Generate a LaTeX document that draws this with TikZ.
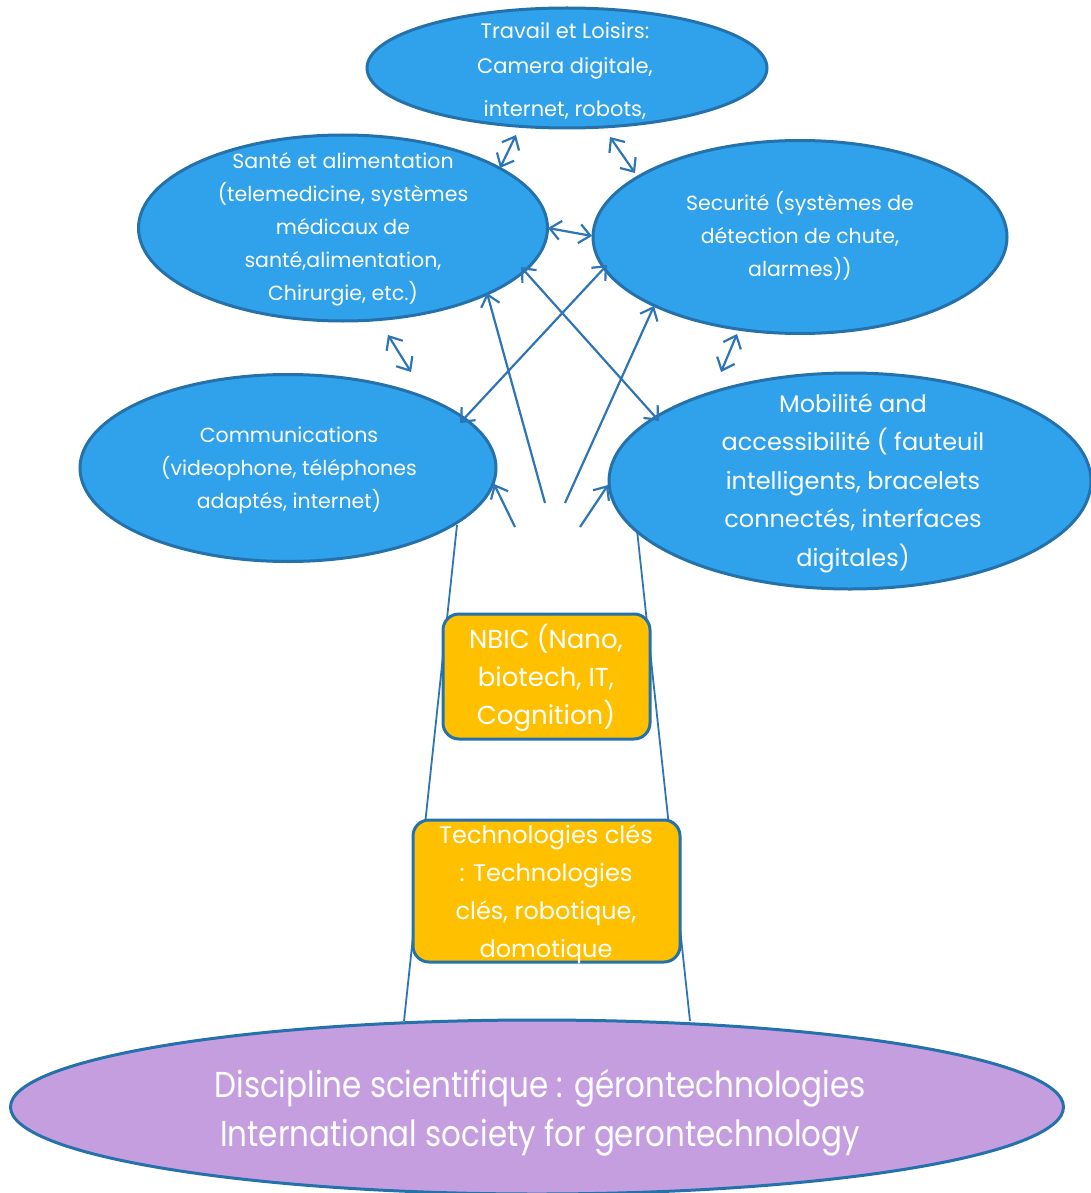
\documentclass[tikz,border=0pt]{standalone}
\usepackage{fontspec}
\setmainfont{Poppins}
\usetikzlibrary{shapes.geometric,arrows.meta}
\definecolor{ellfill}{RGB}{47,162,235}
\definecolor{ellline}{RGB}{36,113,171}
\definecolor{arrcol}{RGB}{46,117,182}
\definecolor{boxfill}{RGB}{255,192,0}
\definecolor{purplefill}{RGB}{197,158,224}
\newfontfamily\condfont[FakeStretch=0.86]{Poppins}
\begin{document}
\begin{tikzpicture}[x=1pt,y=-1pt,
  ell/.style={ellipse,draw=ellline,fill=ellfill,line width=3pt,inner sep=0pt},
  pell/.style={ellipse,draw=ellline,fill=purplefill,line width=3pt,inner sep=0pt},
  orbox/.style={draw=ellline,fill=boxfill,line width=3pt,rounded corners=16pt,inner sep=0pt},
  txt/.style={text=white,align=center,inner sep=0pt,font=\fontsize{20.5}{33}\selectfont},
  bigtxt/.style={text=white,align=center,inner sep=0pt,font=\fontsize{24}{38.5}\selectfont},
  boxtxt/.style={text=white,align=center,inner sep=0pt,font=\fontsize{24}{38}\selectfont},
  disctxt/.style={text=white,align=center,inner sep=0pt,font=\condfont\fontsize{36}{49}\selectfont},
  trunk/.style={draw=arrcol,line width=1.8pt},
  onearrow/.style={draw=arrcol,line width=2.2pt,-{Straight Barb[length=11pt,width=19pt,line width=2.2pt]}},
  twoarrow/.style={draw=arrcol,line width=2.2pt,{Straight Barb[length=11pt,width=19pt,line width=2.2pt]}-{Straight Barb[length=11pt,width=19pt,line width=2.2pt]}}
]
\useasboundingbox (0,0) rectangle (1091,1193);

% trunk lines (behind boxes)
\coordinate (tl1) at (457,525);
\coordinate (tl2) at (404,1021);
\coordinate (tr1) at (637,530);
\coordinate (tr2) at (690,1021);
\draw[trunk] (tl1) -- (tl2);
\draw[trunk] (tr1) -- (tr2);

% ellipses
\node[ell,minimum width=400pt,minimum height=120pt] (travail) at (567,68) {};
\node[ell,minimum width=409pt,minimum height=186pt] (sante) at (343,228) {};
\node[ell,minimum width=414pt,minimum height=193pt] (secu) at (800,237) {};
\node[ell,minimum width=416pt,minimum height=187pt] (comm) at (288,468) {};
\node[ell,minimum width=482pt,minimum height=216pt] (mob) at (850,481) {};
\node[pell,minimum width=1053pt,minimum height=174pt] (disc) at (537,1107) {};

% boxes
\node[orbox,minimum width=207pt,minimum height=125pt] (nbic) at (546.5,676.5) {};
\node[orbox,minimum width=267pt,minimum height=142pt] (tech) at (546.5,891) {};

% texts
\node[txt,font=\fontsize{21}{35}\selectfont] (ttravail) at (565,71) {Travail et Loisirs:\\Camera digitale,\\[8pt]internet, robots,};
\node[txt] (tsante) at (343,229) {Santé et alimentation\\(telemedicine, systèmes\\médicaux de\\santé,alimentation,\\Chirurgie, etc.)};
\node[txt] (tsecu) at (800,236) {Securité (systèmes de\\détection de chute,\\alarmes))};
\node[txt] (tcomm) at (289,470) {Communications\\(videophone, téléphones\\adaptés, internet)};
\node[bigtxt] (tmob) at (853,483) {Mobilité and\\accessibilité ( fauteuil\\intelligents, bracelets\\connectés, interfaces\\digitales)};
\node[boxtxt,font=\fontsize{26}{38}\selectfont] (tnbic) at (546,678) {NBIC (Nano,\\biotech, IT,\\Cognition)};
\node[boxtxt] (ttech) at (546,894) {Technologies clés\\: Technologies\\clés, robotique,\\domotique};
\node[disctxt] (tdisc) at (540,1113) {Discipline scientifique : gérontechnologies\\International society for gerontechnology};

% arrows between ellipses
\coordinate (a1) at (500,168); \coordinate (a2) at (516,135);
\coordinate (b1) at (610,137); \coordinate (b2) at (635,173);
\coordinate (c1) at (548,228); \coordinate (c2) at (592,236);
\coordinate (d1) at (388,335); \coordinate (d2) at (411,372);
\coordinate (e1) at (737,334); \coordinate (e2) at (721,372);
\draw[twoarrow] (a1) -- (a2);
\draw[twoarrow] (b1) -- (b2);
\draw[twoarrow] (c1) -- (c2);
\draw[twoarrow] (d1) -- (d2);
\draw[twoarrow] (e1) -- (e2);

% crossing arrows
\coordinate (s1) at (545,503); \coordinate (h1) at (487,293);
\coordinate (s2) at (565,503); \coordinate (h2) at (654,306);
\coordinate (x1) at (521,267); \coordinate (x2) at (659,421);
\coordinate (y1) at (607,265); \coordinate (y2) at (460,423);
\coordinate (s3) at (515,527); \coordinate (h3) at (494,484);
\coordinate (s4) at (580,527); \coordinate (h4) at (608,485);
\draw[onearrow] (s1) -- (h1);
\draw[onearrow] (s2) -- (h2);
\draw[twoarrow] (x1) -- (x2);
\draw[twoarrow] (y1) -- (y2);
\draw[onearrow] (s3) -- (h3);
\draw[onearrow] (s4) -- (h4);
\end{tikzpicture}
\end{document}
